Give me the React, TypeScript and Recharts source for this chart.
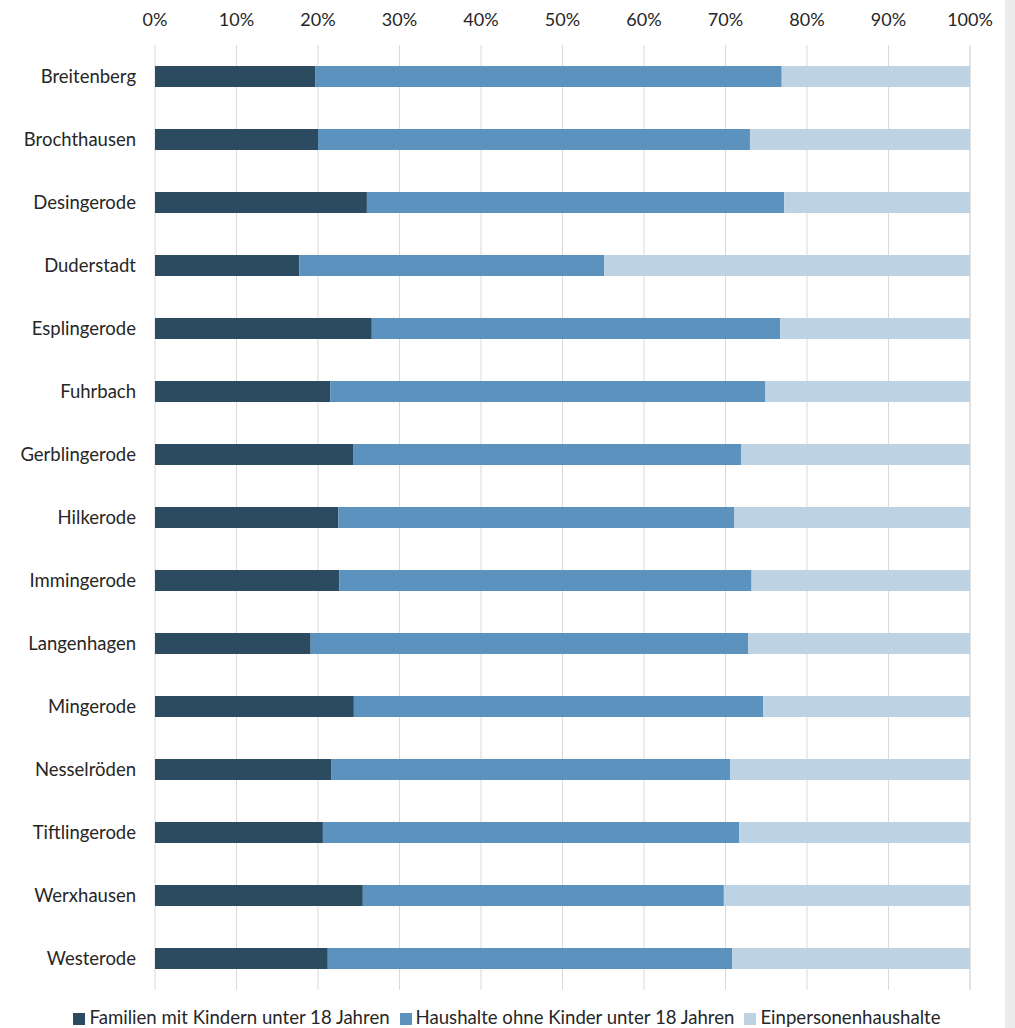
import { Bar, BarChart, CartesianGrid, Legend, XAxis, YAxis } from "recharts"

const orte = [
  "Breitenberg",
  "Brochthausen",
  "Desingerode",
  "Duderstadt",
  "Esplingerode",
  "Fuhrbach",
  "Gerblingerode",
  "Hilkerode",
  "Immingerode",
  "Langenhagen",
  "Mingerode",
  "Nesselröden",
  "Tiftlingerode",
  "Werxhausen",
  "Westerode",
]

const familien = [19.7, 20.0, 26.0, 17.7, 26.6, 21.5, 24.3, 22.5, 22.6, 19.1, 24.4, 21.6, 20.6, 25.5, 21.2]
const ohneKinder = [57.2, 53.0, 51.2, 37.4, 50.1, 53.4, 47.6, 48.6, 50.6, 53.7, 50.2, 49.0, 51.1, 44.3, 49.6]
const einpersonen = [23.1, 27.0, 22.8, 44.9, 23.3, 25.1, 28.1, 28.9, 26.8, 27.2, 25.4, 29.4, 28.3, 30.2, 29.2]

const serien = [
  "Familien mit Kindern unter 18 Jahren",
  "Haushalte ohne Kinder unter 18 Jahren",
  "Einpersonenhaushalte",
]

const xTicks = [0, 10, 20, 30, 40, 50, 60, 70, 80, 90, 100]

const data = orte.map((ort, i) => ({
  ort,
  familien: familien[i],
  ohneKinder: ohneKinder[i],
  einpersonen: einpersonen[i],
}))

const font = "Lato, 'Open Sans', sans-serif"
const textColor = "#262626"

export default function App() {
  return (
    <div style={{ position: "absolute", left: 0, top: 0, width: 1015, height: 1028, display: "flex", background: "#fff", fontFamily: font }}>
      <BarChart
        width={1005}
        height={1028}
        data={data}
        layout="vertical"
        margin={{ top: 0, right: 35, bottom: 0, left: 0 }}
        barSize={21}
      >
        <CartesianGrid horizontal={false} stroke="#d9d9d9" />
        <XAxis
          type="number"
          orientation="top"
          domain={[0, 100]}
          ticks={xTicks}
          tickFormatter={(v) => `${v}%`}
          axisLine={false}
          tickLine={false}
          tickSize={0}
          tickMargin={19}
          height={45}
          interval={0}
          tick={{ fill: textColor, fontSize: 18, fontFamily: font }}
        />
        <YAxis
          type="category"
          dataKey="ort"
          width={155}
          axisLine={false}
          tickLine={false}
          tickSize={0}
          tickMargin={19}
          interval={0}
          tick={{ fill: textColor, fontSize: 18.5, fontFamily: font }}
        />
        <Legend
          verticalAlign="bottom"
          iconType="square"
          iconSize={12}
          itemSorter={(item: any) => serien.indexOf(item.value)}
          wrapperStyle={{ left: 27, fontSize: 18.6, fontFamily: font, height: 38, paddingTop: 17, boxSizing: "border-box", lineHeight: "20px" }}
          formatter={(v) => <span style={{ color: textColor }}>{v}</span>}
        />
        <Bar dataKey="familien" name={serien[0]} stackId="a" fill="#2c4a60" isAnimationActive={false} />
        <Bar dataKey="ohneKinder" name={serien[1]} stackId="a" fill="#5b92be" isAnimationActive={false} />
        <Bar dataKey="einpersonen" name={serien[2]} stackId="a" fill="#bdd2e2" isAnimationActive={false} />
      </BarChart>
      <div style={{ width: 10, height: 1028, background: "#ececec" }} />
    </div>
  )
}
